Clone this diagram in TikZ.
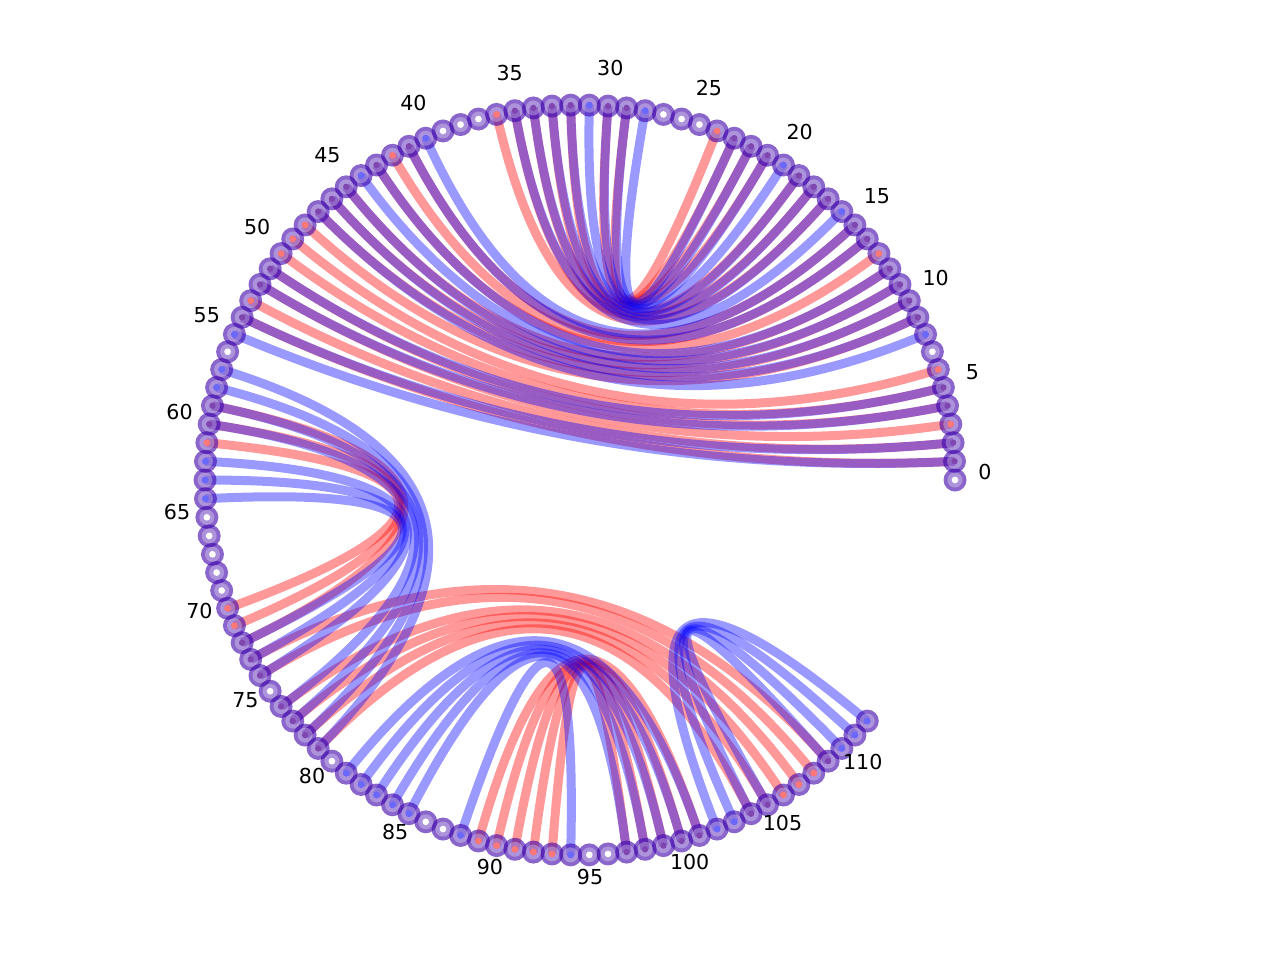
\documentclass[tikz,border=0pt]{standalone}
\usepackage{fontspec}
\setmainfont{DejaVu Sans}
\usetikzlibrary{calc}
\definecolor{ringc}{RGB}{60,0,170}
\definecolor{dotp}{RGB}{128,70,175}
\definecolor{dotr}{RGB}{255,120,120}
\definecolor{dotb}{RGB}{105,105,255}
\tikzset{
  redarc/.style={draw=red, draw opacity=0.4, line width=4.5pt},
  bluearc/.style={draw=blue, draw opacity=0.4, line width=4.5pt},
  ring/.style={fill=ringc, fill opacity=0.6},
  inner/.style={fill=white, fill opacity=0.3},
  lab/.style={font=\fontsize{10.3}{12}\selectfont, inner sep=0pt, text=black}
}
\begin{document}
\begin{tikzpicture}[x=0.5pt,y=-0.5pt]
\useasboundingbox (0,0) rectangle (1280,960);
\coordinate (O) at (580,480);
\foreach \i in {0,...,112} {
  \coordinate (p\i) at ({580+375*cos(\i*20/7)},{480-375*sin(\i*20/7)});
}
% red structure
\foreach \a/\b in {24/29,23/30,22/32,21/33,19/34,18/35,17/36,15/41,14/42,13/43,12/45,11/46,10/47,9/48,6/49,5/50,4/51,3/52,2/53,1/54,
  61/70,60/71,59/72,
  79/104,78/105,77/106,76/107,74/108,73/109,
  93/97,92/98,91/99,90/100,89/101} {
  \draw[redarc] (p\a) .. controls ($(p\a)!0.6667!(O)$) and ($(p\b)!0.6667!(O)$) .. (p\b);
}
% blue structure
\foreach \a/\b in {23/28,22/29,21/30,20/31,19/32,18/33,17/34,16/35,15/40,14/41,12/43,11/44,10/45,9/46,8/47,5/51,4/52,2/54,1/55,
  64/72,63/73,62/74,60/76,59/77,58/78,57/79,
  88/94,85/97,84/98,83/99,82/100,81/101,
  105/109,104/110,103/111,102/112} {
  \draw[bluearc] (p\a) .. controls ($(p\a)!0.6667!(O)$) and ($(p\b)!0.6667!(O)$) .. (p\b);
}
% markers
\foreach \i in {0,...,112} {
  \fill[ring] (p\i) circle (11.5);
}
\foreach \i in {0,...,112} {
  \fill[inner] (p\i) circle (7.5);
  \fill[dotp] (p\i) circle (3.2);
}
\foreach \i in {0,7,25,26,27,37,38,39,56,65,66,67,68,69,75,80,86,87,95,96} {
  \fill[white] (p\i) circle (3.4);
}
\foreach \i in {3,6,13,24,36,42,48,49,50,53,61,70,71,89,90,91,92,93,106,107,108} {
  \fill[dotr] (p\i) circle (3.4);
}
\foreach \i in {8,16,20,28,31,40,44,55,57,58,62,63,64,81,82,83,84,85,88,94,102,103,110,111,112} {
  \fill[dotb] (p\i) circle (3.4);
}
% labels
\foreach \k in {0,5,...,110} {
  \node[lab] (l\k) at ({580+405*cos(\k*20/7)},{472-405*sin(\k*20/7)}) {\k};
}
\end{tikzpicture}
\end{document}
